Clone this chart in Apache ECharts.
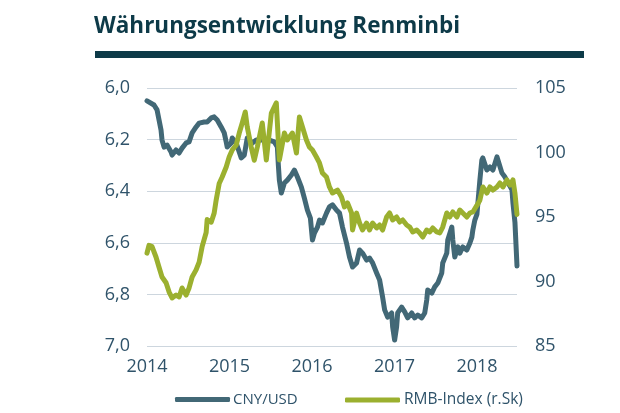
<!DOCTYPE html>
<html>
<head>
<meta charset="utf-8">
<title>Währungsentwicklung Renminbi</title>
<script src="https://cdn.jsdelivr.net/npm/echarts@6/dist/echarts.min.js"></script>
<style>
  html, body { margin: 0; padding: 0; background: #fff; }
  #chart { width: 620px; height: 413px; }
</style>
</head>
<body>
<div id="chart"></div>
<script>
  // Farben
  const colDark = '#426876';
  const colGreen = '#9bb02f';
  const colText = '#2f536a';
  const colTitle = '#0d3a48';

  // CNY/USD (linke Achse, invertiert) - [Jahr, Kurs]
  const cnyUsd = [
    [2014.000, 6.050], [2014.024, 6.047], [2014.085, 6.066], [2014.122, 6.085], [2014.146, 6.124],
    [2014.170, 6.163], [2014.182, 6.202], [2014.207, 6.229], [2014.243, 6.221], [2014.292, 6.248],
    [2014.304, 6.260], [2014.352, 6.240], [2014.389, 6.252], [2014.425, 6.233], [2014.474, 6.213],
    [2014.510, 6.209], [2014.547, 6.174], [2014.595, 6.151], [2014.632, 6.136], [2014.693, 6.132],
    [2014.729, 6.132], [2014.778, 6.116], [2014.814, 6.112], [2014.851, 6.124], [2014.899, 6.151],
    [2014.936, 6.174], [2014.960, 6.209], [2014.972, 6.229], [2015.021, 6.213], [2015.033, 6.194],
    [2015.081, 6.213], [2015.142, 6.271], [2015.179, 6.260], [2015.215, 6.194], [2015.276, 6.213],
    [2015.324, 6.202], [2015.397, 6.202], [2015.482, 6.202], [2015.543, 6.209], [2015.580, 6.229],
    [2015.592, 6.300], [2015.604, 6.357], [2015.628, 6.407], [2015.665, 6.368], [2015.701, 6.357],
    [2015.750, 6.337], [2015.786, 6.318], [2015.823, 6.345], [2015.871, 6.384], [2015.908, 6.428],
    [2015.944, 6.473], [2015.980, 6.504], [2016.005, 6.589], [2016.029, 6.562], [2016.066, 6.539],
    [2016.090, 6.512], [2016.126, 6.523], [2016.175, 6.485], [2016.211, 6.461], [2016.248, 6.453],
    [2016.296, 6.473], [2016.333, 6.485], [2016.369, 6.539], [2016.418, 6.601], [2016.454, 6.655],
    [2016.491, 6.694], [2016.540, 6.678], [2016.576, 6.628], [2016.612, 6.640], [2016.661, 6.667],
    [2016.697, 6.659], [2016.734, 6.678], [2016.783, 6.717], [2016.819, 6.744], [2016.855, 6.810],
    [2016.880, 6.860], [2016.916, 6.888], [2016.965, 6.872], [2016.977, 6.926], [2017.001, 6.977],
    [2017.025, 6.926], [2017.038, 6.872], [2017.086, 6.849], [2017.123, 6.868], [2017.159, 6.891],
    [2017.208, 6.872], [2017.244, 6.891], [2017.281, 6.880], [2017.329, 6.891], [2017.366, 6.872],
    [2017.390, 6.822], [2017.402, 6.783], [2017.451, 6.795], [2017.487, 6.771], [2017.524, 6.756],
    [2017.572, 6.717], [2017.584, 6.678], [2017.633, 6.640], [2017.645, 6.589], [2017.694, 6.539],
    [2017.706, 6.589], [2017.730, 6.655], [2017.767, 6.616], [2017.791, 6.640], [2017.827, 6.616],
    [2017.876, 6.628], [2017.913, 6.601], [2017.937, 6.578], [2017.949, 6.550], [2017.973, 6.512],
    [2017.998, 6.490], [2018.034, 6.357], [2018.058, 6.279], [2018.070, 6.271], [2018.119, 6.318],
    [2018.156, 6.306], [2018.192, 6.318], [2018.241, 6.267], [2018.253, 6.279], [2018.301, 6.329],
    [2018.338, 6.345], [2018.374, 6.368], [2018.399, 6.380], [2018.423, 6.395], [2018.435, 6.446],
    [2018.459, 6.520], [2018.484, 6.690]
  ];

  // RMB-Index (rechte Achse) - [Jahr, Index]
  const rmbIndex = [
    [2014.000, 92.20], [2014.024, 92.80], [2014.061, 92.70], [2014.109, 91.90], [2014.146, 91.10],
    [2014.182, 90.35], [2014.231, 89.90], [2014.267, 89.20], [2014.304, 88.72], [2014.352, 88.95],
    [2014.389, 88.80], [2014.425, 89.50], [2014.474, 88.95], [2014.510, 89.50], [2014.547, 90.35],
    [2014.595, 90.90], [2014.632, 91.50], [2014.668, 92.70], [2014.717, 93.80], [2014.729, 94.80],
    [2014.778, 94.60], [2014.814, 95.30], [2014.838, 96.30], [2014.875, 97.60], [2014.911, 98.10],
    [2014.960, 98.88], [2014.996, 99.65], [2015.033, 100.19], [2015.081, 100.58], [2015.118, 101.51],
    [2015.154, 102.29], [2015.191, 103.14], [2015.215, 101.98], [2015.264, 100.40], [2015.300, 99.40],
    [2015.337, 100.43], [2015.397, 102.29], [2015.446, 99.42], [2015.507, 103.06], [2015.567, 103.84],
    [2015.580, 102.29], [2015.604, 99.42], [2015.665, 101.51], [2015.701, 100.97], [2015.762, 101.51],
    [2015.811, 99.96], [2015.847, 102.75], [2015.884, 101.98], [2015.932, 100.97], [2015.968, 100.43],
    [2016.005, 100.19], [2016.053, 99.65], [2016.090, 99.19], [2016.126, 98.41], [2016.175, 98.10],
    [2016.211, 97.33], [2016.248, 96.86], [2016.308, 97.09], [2016.357, 96.55], [2016.393, 95.78],
    [2016.430, 96.09], [2016.479, 95.31], [2016.491, 94.00], [2016.540, 95.30], [2016.576, 94.53],
    [2016.612, 93.99], [2016.661, 94.53], [2016.697, 93.99], [2016.734, 94.53], [2016.783, 94.15],
    [2016.819, 94.38], [2016.855, 93.99], [2016.904, 95.00], [2016.940, 95.31], [2016.977, 94.77],
    [2017.025, 95.00], [2017.062, 94.61], [2017.099, 94.77], [2017.147, 94.38], [2017.184, 94.22],
    [2017.220, 93.84], [2017.269, 93.99], [2017.305, 93.76], [2017.342, 93.45], [2017.390, 93.99],
    [2017.426, 93.84], [2017.463, 94.15], [2017.512, 93.84], [2017.548, 93.76], [2017.584, 94.22],
    [2017.633, 95.31], [2017.669, 95.00], [2017.706, 95.39], [2017.755, 95.00], [2017.791, 95.54],
    [2017.827, 95.31], [2017.876, 95.00], [2017.913, 95.31], [2017.949, 95.39], [2017.998, 95.90],
    [2018.034, 96.30], [2018.070, 97.33], [2018.119, 96.86], [2018.156, 97.33], [2018.192, 97.09],
    [2018.241, 97.33], [2018.277, 97.64], [2018.314, 97.33], [2018.362, 97.87], [2018.399, 97.48],
    [2018.435, 97.87], [2018.459, 96.86], [2018.484, 95.20]
  ];

  const seriesNames = ['CNY/USD', 'RMB-Index (r.Sk)'];
  const titleText = 'Währungsentwicklung Renminbi';

  const chart = echarts.init(document.getElementById('chart'), null, { renderer: 'canvas' });

  const font = '"Open Sans", "Noto Sans", sans-serif';

  chart.setOption({
    backgroundColor: '#fff',
    animation: false,
    textStyle: { fontFamily: font },
    title: {
      text: titleText,
      left: 94,
      top: 15,
      padding: 0,
      textStyle: { fontFamily: font, fontSize: 22.5, fontWeight: 'bold', color: colTitle }
    },
    graphic: [{
      type: 'rect',
      shape: { x: 95, y: 51, width: 489, height: 7 },
      style: { fill: colTitle }
    }],
    legend: [{
      data: [seriesNames[0]],
      left: 175,
      top: 392,
      padding: 0,
      itemWidth: 55,
      itemHeight: 5,
      icon: 'roundRect',
      itemGap: 4,
      textStyle: { fontFamily: font, fontSize: 15, color: colText, padding: [0, 0, 0, -2] }
    }, {
      data: [seriesNames[1]],
      left: 345,
      top: 392,
      padding: 0,
      itemWidth: 55,
      itemHeight: 5,
      icon: 'roundRect',
      textStyle: { fontFamily: font, fontSize: 15.5, color: colText, padding: [0, 0, 0, -1] }
    }],
    grid: {
      left: 147,
      right: 103,
      top: 88,
      bottom: 67
    },
    xAxis: {
      type: 'value',
      min: 2014,
      max: 2018.484,
      interval: 1,
      axisLine: { show: false },
      axisTick: { show: false },
      splitLine: { show: false },
      axisLabel: {
        showMaxLabel: false,
        margin: 12,
        fontSize: 18,
        color: colText,
        formatter: function (v) { return Math.abs(v - Math.round(v)) < 1e-6 ? String(Math.round(v)) : ''; }
      }
    },
    yAxis: [{
      type: 'value',
      inverse: true,
      min: 6,
      max: 7,
      interval: 0.2,
      axisLine: { show: false },
      axisTick: { show: false },
      splitLine: { lineStyle: { color: '#cdd6de', width: 1 } },
      axisLabel: {
        margin: 17,
        fontSize: 18,
        color: colText,
        formatter: function (v) { return v.toFixed(1).replace('.', ','); }
      }
    }, {
      type: 'value',
      min: 85,
      max: 105,
      interval: 5,
      axisLine: { show: false },
      axisTick: { show: false },
      splitLine: { show: false },
      axisLabel: {
        margin: 18,
        fontSize: 18,
        color: colText
      }
    }],
    series: [{
      name: seriesNames[1],
      type: 'line',
      yAxisIndex: 1,
      data: rmbIndex,
      showSymbol: false,
      symbol: 'none',
      color: colGreen,
      lineStyle: { color: colGreen, width: 5, join: 'round', cap: 'round' },
      z: 2
    }, {
      name: seriesNames[0],
      type: 'line',
      yAxisIndex: 0,
      data: cnyUsd,
      showSymbol: false,
      symbol: 'none',
      color: colDark,
      lineStyle: { color: colDark, width: 5, join: 'round', cap: 'round' },
      z: 1
    }]
  });
</script>
</body>
</html>
